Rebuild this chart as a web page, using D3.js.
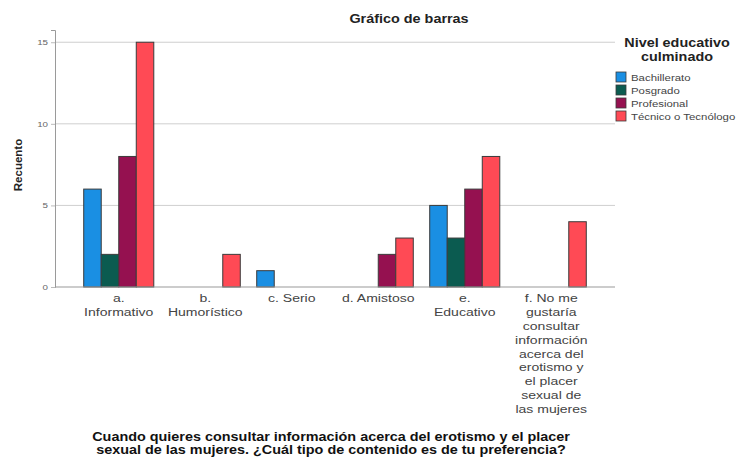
<!DOCTYPE html>
<html>
<head>
<meta charset="utf-8">
<script src="https://cdn.jsdelivr.net/npm/d3@7"></script>
<style>
  html, body { margin: 0; padding: 0; background: #fff; }
  svg { display: block; font-family: "Liberation Sans", Arial, sans-serif; }
</style>
</head>
<body>
<svg id="chart" width="746" height="457"></svg>
<script>
// ---- data ----
const categories = ["a. Informativo", "b. Humorístico", "c. Serio", "d. Amistoso", "e. Educativo",
  "f. No me gustaría consultar información acerca del erotismo y el placer sexual de las mujeres"];
const categoryLines = [
  ["a.", "Informativo"],
  ["b.", "Humorístico"],
  ["c. Serio"],
  ["d. Amistoso"],
  ["e.", "Educativo"],
  ["f. No me", "gustaría", "consultar", "información", "acerca del", "erotismo y", "el placer", "sexual de", "las mujeres"]
];
const series = ["Bachillerato", "Posgrado", "Profesional", "Técnico o Tecnólogo"];
const bachillerato = [6, 0, 1, 0, 5, 0];
const posgrado     = [2, 0, 0, 0, 3, 0];
const profesional  = [8, 0, 0, 2, 6, 0];
const tecnico      = [15, 2, 0, 3, 8, 4];
const yTicks = [0, 5, 10, 15];
const chartTitle = "Gráfico de barras";
const yTitle = "Recuento";
const xTitleLines = ["Cuando quieres consultar información acerca del erotismo y el placer",
  "sexual de las mujeres. ¿Cuál tipo de contenido es de tu preferencia?"];
const legendTitleLines = ["Nivel educativo", "culminado"];

const colors = ["#1a8fe3", "#0b5b50", "#951150", "#ff4a55"];
const values = [bachillerato, posgrado, profesional, tecnico];

(function () {
// ---- layout ----
const svg = d3.select("#chart");
const pLeft = 55, pRight = 615, pTop = 30, pBottom = 287;
const SX = 1.22; // horizontal text stretch of the reference

const y = d3.scaleLinear().domain([0, 15.75]).range([pBottom, pTop]);
const x0 = d3.scaleBand().domain(categories).range([pLeft, pRight])
  .paddingInner(0.19).paddingOuter(0.332);
const x1 = d3.scaleBand().domain(series).range([0, x0.bandwidth()]);
const color = d3.scaleOrdinal().domain(series).range(colors);

function stretchedText(g, x, yy, txt, opts) {
  return g.append("text")
    .attr("transform", `translate(${x},${yy}) scale(${opts.sx || SX},1)`)
    .attr("text-anchor", opts.anchor || "middle")
    .attr("font-size", opts.size)
    .attr("font-weight", opts.weight || "normal")
    .attr("fill", opts.fill || "#333")
    .text(txt);
}

// gridlines
svg.append("g")
  .selectAll("line")
  .data(yTicks.filter(d => d > 0))
  .join("line")
  .attr("x1", pLeft).attr("x2", pRight)
  .attr("y1", d => y(d)).attr("y2", d => y(d))
  .attr("stroke", "#cfcfcf").attr("stroke-width", 1);

// y axis
const yAxis = svg.append("g")
  .attr("transform", `translate(${pLeft},0)`)
  .call(d3.axisLeft(y).tickValues(yTicks).tickSize(4).tickPadding(4).tickFormat(d3.format("d")));
yAxis.select(".domain").attr("stroke", "#9a9a9a");
yAxis.selectAll(".tick line").attr("stroke", "#bbbbbb");
yAxis.selectAll(".tick text")
  .attr("font-size", 8).attr("fill", "#666")
  .attr("font-family", "'Liberation Sans', Arial, sans-serif")
  .attr("transform", `scale(${SX},1)`)
  .attr("x", -7 / SX);

// bars
const groups = svg.append("g")
  .selectAll("g")
  .data(categories)
  .join("g")
  .attr("transform", d => `translate(${x0(d)},0)`);

groups.selectAll("rect")
  .data((d, i) => series.map((s, j) => ({ s, v: values[j][i] })).filter(e => e.v > 0))
  .join("rect")
  .attr("x", d => x1(d.s))
  .attr("width", x1.bandwidth())
  .attr("y", d => y(d.v))
  .attr("height", d => y(0) - y(d.v))
  .attr("fill", d => color(d.s))
  .attr("stroke", "#3b3b3b")
  .attr("stroke-width", 1);

// baseline
svg.append("line")
  .attr("x1", pLeft).attr("x2", pRight)
  .attr("y1", y(0)).attr("y2", y(0))
  .attr("stroke", "#9a9a9a").attr("stroke-width", 1.2);

// x axis labels
const xAxis = svg.append("g")
  .attr("transform", `translate(0,${pBottom})`)
  .call(d3.axisBottom(x0).tickSize(0).tickFormat(""));
xAxis.select(".domain").remove();
xAxis.selectAll(".tick").each(function (d, i) {
  const g = d3.select(this);
  g.select("text").remove();
  const t = g.append("text")
    .attr("transform", `scale(${SX},1)`)
    .attr("text-anchor", "middle")
    .attr("font-size", 11.5)
    .attr("fill", "#444");
  categoryLines[i].forEach((line, k) => {
    t.append("tspan").attr("x", 0).attr("y", 15 + k * 13.9).text(line);
  });
});

// chart title
stretchedText(svg, 409, 23, chartTitle, { size: 12, weight: "bold", sx: 1.2, fill: "#222" });

// y title
svg.append("text")
  .attr("transform", `translate(22,165) rotate(-90)`)
  .attr("text-anchor", "middle")
  .attr("font-size", 11.5)
  .attr("font-weight", "bold")
  .attr("fill", "#222")
  .text(yTitle);

// x title
xTitleLines.forEach((line, k) => {
  stretchedText(svg, 331, 441 + k * 13, line, { size: 12, weight: "bold", sx: 1.2, fill: "#111" });
});

// legend
legendTitleLines.forEach((line, k) => {
  stretchedText(svg, 677, 47 + k * 14, line, { size: 12.5, weight: "bold", sx: 1.15, fill: "#222" });
});
const legend = svg.append("g")
  .selectAll("g")
  .data(series)
  .join("g")
  .attr("transform", (d, i) => `translate(616,${77 + i * 13})`);
legend.append("rect")
  .attr("x", 0).attr("y", -5).attr("width", 10).attr("height", 10)
  .attr("fill", d => color(d)).attr("stroke", "#3b3b3b").attr("stroke-width", 0.8);
legend.each(function (d) {
  stretchedText(d3.select(this), 15, 3.5, d, { size: 9.5, anchor: "start", sx: 1.2, fill: "#444" });
});
})();
</script>
</body>
</html>
